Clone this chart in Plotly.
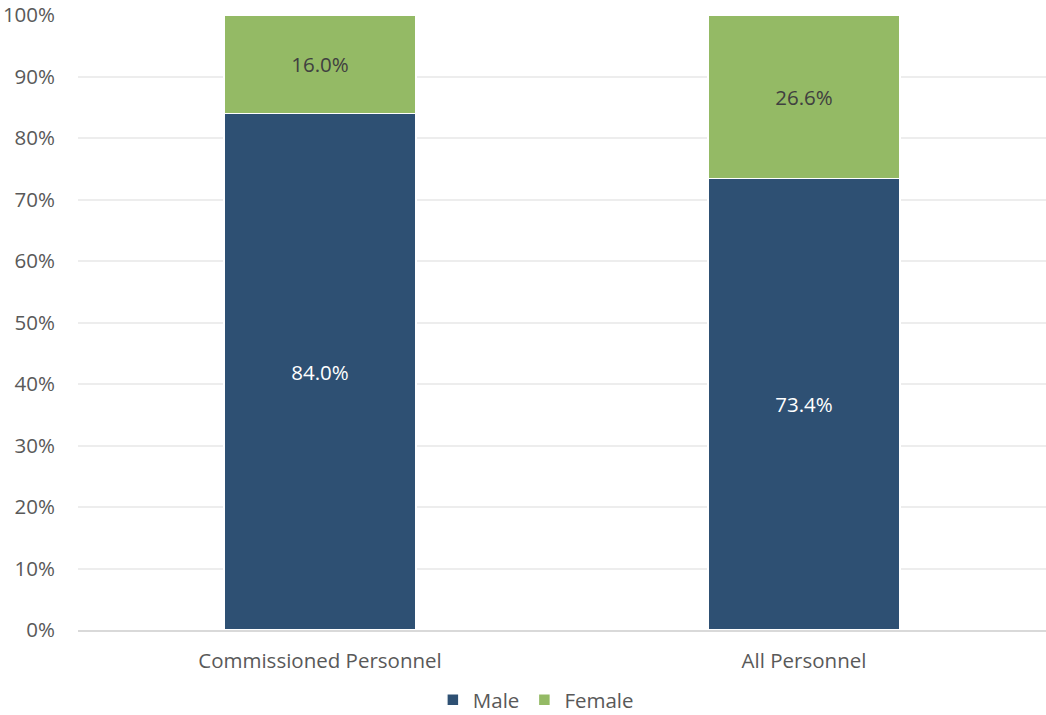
import plotly.graph_objects as go

categories = ["Commissioned Personnel", "All Personnel"]
male = [84.0, 73.4]
female = [16.0, 26.6]
tick_vals = [0, 10, 20, 30, 40, 50, 60, 70, 80, 90, 100]
tick_text = [f"{v}%" for v in tick_vals]

FONT = "Open Sans, sans-serif"
SIZE = 20.5
MALE_COLOR = "#2E5073"
FEMALE_COLOR = "#94BA65"

fig = go.Figure()
fig.add_trace(go.Bar(
    name="Male", x=categories, y=male,
    marker=dict(color=MALE_COLOR, line=dict(color="white", width=1.5)),
    text=[f"{v:.1f}%" for v in male], textposition="inside",
    insidetextanchor="middle",
    textfont=dict(color="white", size=SIZE, family=FONT),
))
fig.add_trace(go.Bar(
    name="Female", x=categories, y=female,
    marker=dict(color=FEMALE_COLOR, line=dict(color="white", width=1.5)),
    text=[f"{v:.1f}%" for v in female], textposition="inside",
    insidetextanchor="middle",
    textfont=dict(color="#404040", size=SIZE, family=FONT),
))

fig.update_layout(
    barmode="stack",
    bargap=0.603,
    width=1046, height=715,
    margin=dict(l=78, r=0, t=15, b=85),
    paper_bgcolor="white", plot_bgcolor="white",
    font=dict(family=FONT, size=SIZE, color="#595959"),
    legend=dict(
        orientation="h", x=0.473, xanchor="center",
        yref="container", y=0.021, yanchor="middle",
        font=dict(size=SIZE, color="#595959"), itemwidth=30, traceorder="normal",
    ),
    xaxis=dict(
        showgrid=False, showline=True, linecolor="#D9D9D9", linewidth=1.5,
        ticks="", ticklabelstandoff=12, automargin=False,
        tickfont=dict(size=SIZE, color="#595959"),
    ),
    yaxis=dict(
        range=[0, 100], tickvals=tick_vals, ticktext=tick_text,
        showgrid=True, gridcolor="#EDEDED", gridwidth=1.5,
        zeroline=False, ticks="", ticklabelstandoff=22,
        ticklabeloverflow="allow", automargin=False,
        tickfont=dict(size=SIZE, color="#595959"),
    ),
)

fig.write_html("out.html")
